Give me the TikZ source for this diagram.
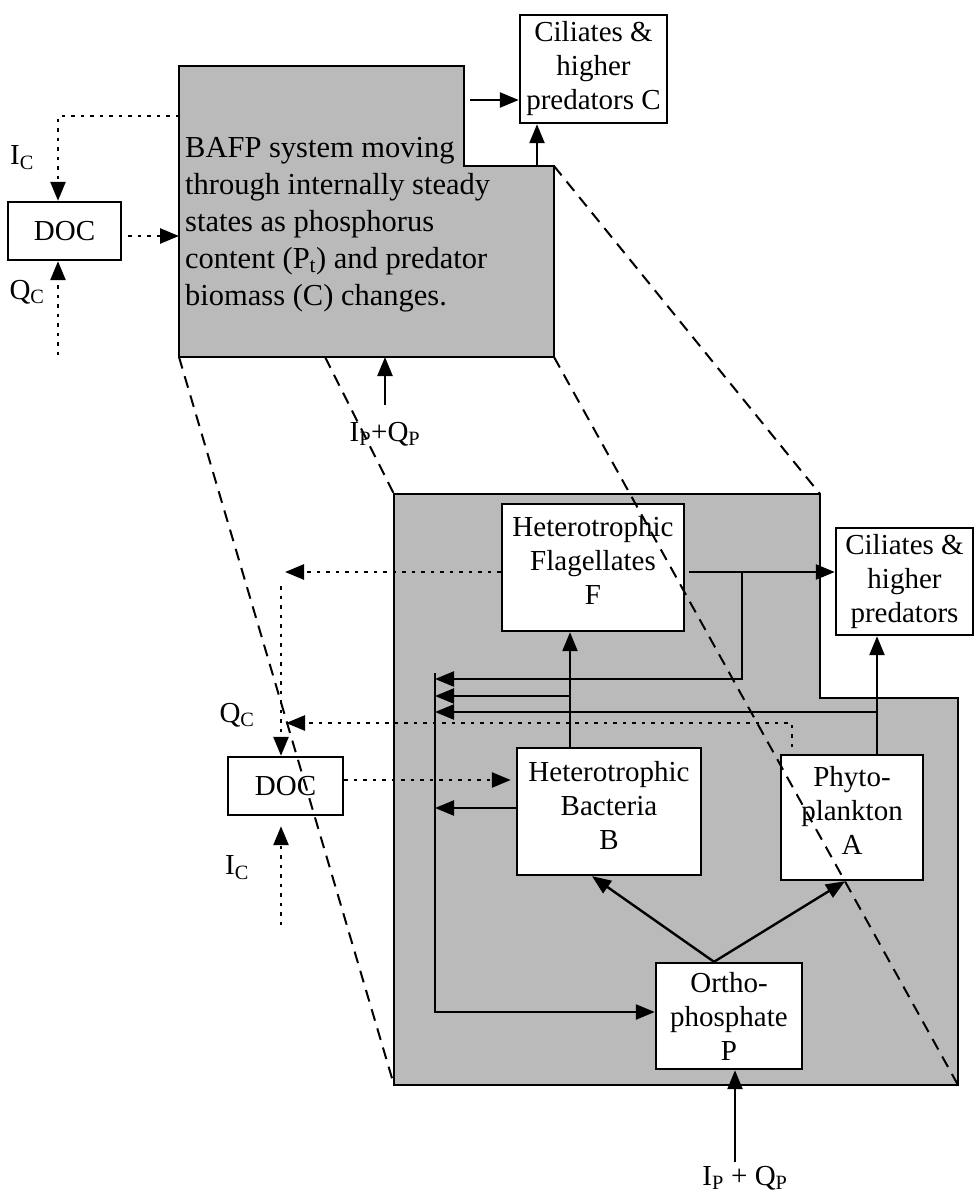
\documentclass[tikz,border=0pt]{standalone}
\usepackage{fontspec}
\setmainfont{Liberation Serif}
\usetikzlibrary{arrows.meta}
\begin{document}
\begin{tikzpicture}[x=1pt,y=-1pt,
  box/.style={draw, line width=2.4pt, fill=white, align=center, inner sep=0pt, font=\fontsize{29}{34}\selectfont},
  tip/.style={-{Triangle[length=19pt,width=15pt]}},
  arr/.style={line width=2.4pt, tip},
  dotl/.style={line width=2.6pt, dash pattern=on 3.5pt off 6pt},
  darr/.style={dotl, tip},
  dsh/.style={line width=2pt, dash pattern=on 12pt off 8pt},
  lab/.style={font=\fontsize{29}{34}\selectfont, inner sep=0pt},
  shade/.style={fill=black!27, draw, line width=2.4pt}]
\useasboundingbox (0,0) rectangle (975,1192);
\fill[white] (0,0) rectangle (975,1192);

% ---------- upper shaded system ----------
\coordinate (u1) at (179,66);
\coordinate (u2) at (464,66);
\coordinate (u3) at (464,166);
\coordinate (u4) at (554,166);
\coordinate (u5) at (554,357);
\coordinate (u6) at (179,357);
\coordinate (u7) at (325,357);
\draw[shade] (u1) -- (u2) -- (u3) -- (u4) -- (u5) -- (u6) -- cycle;
\node[anchor=north west, inner sep=0pt, align=left, font=\fontsize{30.5}{37}\selectfont] (txt) at (185,137)
 {BAFP system moving\\through internally steady\\states as phosphorus\\content (P\textsubscript{t}) and predator\\biomass (C) changes.};

\node[box, minimum width=147pt, minimum height=108pt] (TC) at (593.5,69) {Ciliates \&\\higher\\predators C};
\node[box, minimum width=113pt, minimum height=58pt] (DOC1) at (64.5,231) {DOC};
\node[lab] (IC1) at (22,158) {I\textsubscript{C}};
\node[lab] (QC1) at (27,292) {Q\textsubscript{C}};
\node[lab] (IPQP1) at (385,434) {I\textsubscript{P}+Q\textsubscript{P}};

\coordinate (g1L) at (179,116);
\draw[darr] (g1L) -| ([xshift=-6.5pt]DOC1.north);
\coordinate (qc1s) at (58,355);
\draw[darr] (qc1s) -- ([xshift=-6.5pt]DOC1.south);
\coordinate (g1D) at (179,236);
\draw[darr] ([xshift=6pt]DOC1.east |- g1D) -- (g1D);
\coordinate (tca) at (470,100);
\draw[arr] (tca) -- (tca -| TC.west);
\coordinate (tcb) at (537,166);
\draw[arr] (tcb) -- (tcb |- TC.south);
\coordinate (g1B) at (385,357);
\draw[arr] ([yshift=17pt]IPQP1.north) -- (IPQP1.north |- g1B);

% ---------- lower shaded system ----------
\coordinate (l1) at (394,494);
\coordinate (l2) at (820,494);
\coordinate (l3) at (820,698);
\coordinate (l4) at (958,698);
\coordinate (l5) at (958,1085);
\coordinate (l6) at (394,1085);
\draw[shade] (l1) -- (l2) -- (l3) -- (l4) -- (l5) -- (l6) -- cycle;

\node[box, minimum width=182pt, minimum height=127pt, text depth=14pt] (F) at (593,567.5) {Heterotrophic\\Flagellates\\F};
\node[box, minimum width=137pt, minimum height=107pt] (CL) at (904.5,581.5) {Ciliates \&\\higher\\predators};
\node[box, minimum width=184pt, minimum height=127pt, text depth=12pt] (B) at (609,811.5) {Heterotrophic\\Bacteria\\B};
\node[box, minimum width=142pt, minimum height=125pt, text depth=14pt] (A) at (852,817.5) {Phyto-\\plankton\\A};
\node[box, minimum width=146pt, minimum height=106pt] (P) at (729,1016) {Ortho-\\phosphate\\P};
\node[box, minimum width=115pt, minimum height=58pt] (DOC2) at (285.5,786) {DOC};
\node[lab] (QC2) at (237,715) {Q\textsubscript{C}};
\node[lab] (IC2) at (237,868) {I\textsubscript{C}};
\node[lab] (IPQP2) at (745,1178) {I\textsubscript{P} + Q\textsubscript{P}};

% solid flows
\coordinate (fa) at (689,572);
\draw[arr] (fa) -- (fa -| CL.west);
\coordinate (br) at (742,572);
\coordinate (r1) at (435,679);
\draw[arr] (br) |- (r1);
\coordinate (bfx) at (570,0);
\draw[arr] (B.north -| bfx) -- (F.south -| bfx);
\coordinate (r2) at (435,696);
\draw[arr] (r2 -| bfx) -- (r2);
\coordinate (acx) at (877,0);
\draw[arr] (A.north -| acx) -- (CL.south -| acx);
\coordinate (r3) at (435,712);
\draw[arr] (r3 -| acx) -- (r3);
\coordinate (ctop) at (435,673);
\coordinate (cbot) at (435,1012);
\draw[arr] (ctop) -- (cbot) -- (cbot -| P.west);
\coordinate (r4) at (435,808);
\draw[arr] (r4 -| B.west) -- (r4);
\coordinate (po) at (714,0);
\coordinate (pbx) at (592,0);
\coordinate (pax) at (845,0);
\draw[arr] (P.north -| po) -- (B.south -| pbx);
\draw[arr] (P.north -| po) -- (A.south -| pax);
\coordinate (ipb) at (735,1162);
\draw[arr] (ipb) -- (ipb |- P.south);

% dotted (carbon) flows
\coordinate (fd) at (285,572);
\draw[darr] (F.west |- fd) -- (fd);
\coordinate (dv) at (281,586);
\draw[darr] (dv) -- (dv |- DOC2.north);
\coordinate (qa) at (792,747);
\coordinate (qb) at (286,723);
\draw[darr] (qa) |- (qb);
\coordinate (db) at (0,780);
\draw[darr, shorten >=5pt] (DOC2.east |- db) -- (B.west |- db);
\coordinate (ics) at (281,925);
\draw[darr, shorten >=10pt] (ics) -- (ics |- DOC2.south);

% projection lines
\draw[dsh] (u6) -- (l6);
\draw[dsh] (u7) -- (l1);
\draw[dsh] (u4) -- (l2);
\draw[dsh] (u5) -- (l5);
\end{tikzpicture}
\end{document}
